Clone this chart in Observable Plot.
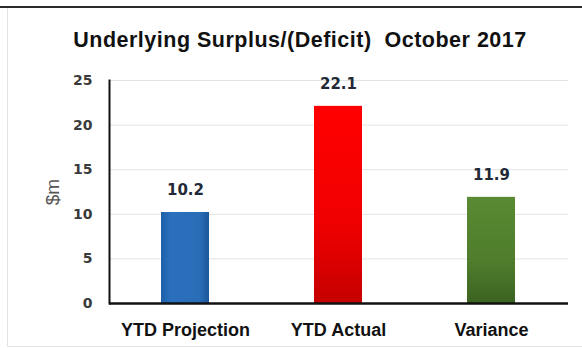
<!DOCTYPE html>
<html>
<head>
<meta charset="utf-8">
<script src="https://cdn.jsdelivr.net/npm/d3@7"></script>
<script src="https://cdn.jsdelivr.net/npm/@observablehq/plot@0.6"></script>
<style>
  html, body { margin: 0; padding: 0; background: #fff; }
  #frame { position: relative; width: 582px; height: 348px; overflow: hidden; background: #fff; }
  #topline { position: absolute; left: 0; top: 6px; width: 582px; height: 2px; background: #2b2b2b; }
  #leftline { position: absolute; left: 7px; top: 8px; width: 1px; height: 338px; background: #e4e4e4; }
  #botline { position: absolute; left: 7px; top: 346px; width: 575px; height: 1px; background: #e4e4e4; }
  #title { position: absolute; left: 19px; top: 27.5px; width: 562px; height: 24px; text-align: center;
           font-family: "Liberation Sans", Arial, sans-serif; font-weight: bold; font-size: 21.5px; color: #111;
           line-height: 24px; letter-spacing: 0.5px; white-space: pre; }
  #chart { position: absolute; left: 0; top: 62px; }
  #ylabel { position: absolute; left: 53px; top: 192px; transform: translate(-50%, -50%) rotate(-90deg);
            font-family: "Liberation Sans", Arial, sans-serif; font-size: 19px; color: #555; white-space: pre; }
</style>
</head>
<body>
<div id="frame">
  <div id="topline"></div>
  <div id="leftline"></div>
  <div id="botline"></div>
  <div id="title">Underlying Surplus/(Deficit)  October 2017</div>
  <div id="chart"></div>
  <div id="ylabel">$m</div>
</div>
<script>
const categories = ["YTD Projection", "YTD Actual", "Variance"];
const values = [10.2, 22.1, 11.9];
const yTicks = [0, 5, 10, 15, 20, 25];
const barColors = ["url(#gBlue)", "url(#gRed)", "url(#gGreen)"];

const data = categories.map((c, i) => ({category: c, value: values[i]}));

const chart = Plot.plot({
  width: 582,
  height: 286,
  marginTop: 18,
  marginBottom: 45,
  marginLeft: 109,
  marginRight: 14,
  style: {background: "transparent", overflow: "visible"},
  x: {domain: categories, paddingInner: 0.686, paddingOuter: 0.343, label: null},
  y: {domain: [0, 25], label: null},
  color: {domain: categories, range: barColors},
  marks: [
    Plot.ruleY(yTicks.filter(d => d > 0), {stroke: "#e3e3e3", strokeWidth: 1}),
    Plot.barY(data, {x: "category", y: "value", fill: "category"}),
    Plot.text(data, {x: "category", y: "value", text: d => d.value.toFixed(1), dy: -22,
      fontFamily: "DejaVu Sans", fontWeight: "bold", fontSize: 15, fill: "#1f2a36"}),
    Plot.axisY({ticks: yTicks, tickSize: 0, tickPadding: 17, tickFormat: d => d,
      fontFamily: "DejaVu Sans", fontWeight: "bold", fontSize: 14, fill: "#3a3a3a", label: null}),
    Plot.axisX({tickSize: 0, tickPadding: 20, fontFamily: "Liberation Sans", fontWeight: "bold",
      fontSize: 18, fill: "#111", label: null, style: {letterSpacing: "-0.4px"}}),
    Plot.frame({anchor: "left", stroke: "#111", strokeWidth: 2}),
    Plot.ruleY([0], {stroke: "#111", strokeWidth: 2.5})
  ]
});

const ns = "http://www.w3.org/2000/svg";
const defs = document.createElementNS(ns, "defs");
const grads = [
  ["gBlue", [["0%", "#1e5fa8"], ["20%", "#2a70bd"], ["80%", "#2a6db7"], ["100%", "#1b579b"]], true],
  ["gRed", [["0%", "#ff0000"], ["60%", "#f00000"], ["100%", "#c40000"]], false],
  ["gGreen", [["0%", "#5a8a33"], ["60%", "#4f7d2c"], ["100%", "#3c6321"]], false]
];
for (const [id, stops, horiz] of grads) {
  const g = document.createElementNS(ns, "linearGradient");
  g.setAttribute("id", id);
  g.setAttribute("x1", "0"); g.setAttribute("y1", "0");
  g.setAttribute("x2", horiz ? "1" : "0"); g.setAttribute("y2", horiz ? "0" : "1");
  for (const [o, c] of stops) {
    const s = document.createElementNS(ns, "stop");
    s.setAttribute("offset", o); s.setAttribute("stop-color", c);
    g.appendChild(s);
  }
  defs.appendChild(g);
}
chart.insertBefore(defs, chart.firstChild);
document.getElementById("chart").appendChild(chart);
</script>
</body>
</html>
